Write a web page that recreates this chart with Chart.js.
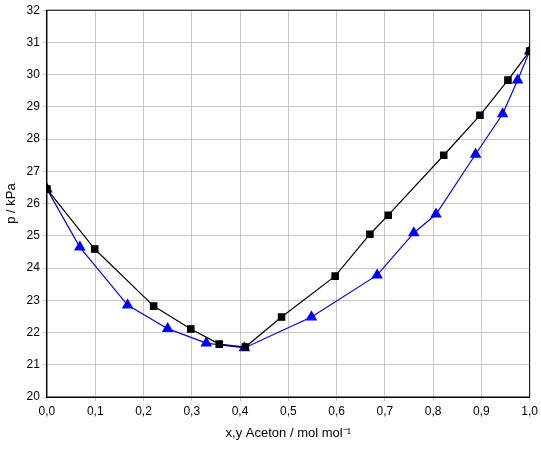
<!DOCTYPE html>
<html><head><meta charset="utf-8">
<script src="https://cdn.jsdelivr.net/npm/chart.js@4"></script>
<style>html,body{margin:0;padding:0;background:#fff}#w{width:541px;height:451px}</style>
</head><body><div id="w"><canvas id="c"></canvas></div>
<script>
const liquidX=[0,0.099,0.221,0.298,0.357,0.411,0.486,0.597,0.669,0.707,0.822,0.897,0.955,1.0];
const liquidP=[26.45,24.59,22.82,22.11,21.64,21.55,22.48,23.75,25.05,25.64,27.5,28.74,29.83,30.73];
const vaporX=[0,0.068,0.167,0.25,0.33,0.409,0.548,0.684,0.76,0.806,0.888,0.944,0.975,1.0];
const vaporP=[26.45,24.65,22.85,22.12,21.67,21.52,22.48,23.78,25.09,25.67,27.53,28.78,29.83,30.73];
const xTitle='x,y Aceton / mol mol\u207B\u00B9';
const yTitle='p / kPa';
const pts=(xs,ys)=>xs.map((x,i)=>({x,y:ys[i]}));
const fmt=v=>v.toFixed(1).replace('.',',');
new Chart(document.getElementById('c'),{type:'scatter',data:{datasets:[
{data:pts(liquidX,liquidP),showLine:true,borderColor:'#000',backgroundColor:'#000',borderWidth:1.2,pointStyle:'rect',pointRadius:4.5},
{data:pts(vaporX,vaporP),showLine:true,borderColor:'#0000ff',backgroundColor:'#0000ff',borderWidth:1.2,pointStyle:'triangle',pointRadius:5.5}
]},options:{responsive:true,maintainAspectRatio:false,animation:false,
layout:{padding:{top:1,right:8,left:0,bottom:6}},
plugins:{legend:{display:false},tooltip:{enabled:false}},
scales:{x:{type:'linear',min:0,max:1,border:{color:'#000',width:1},
grid:{color:'#c8c8c8',tickLength:4},
ticks:{stepSize:0.1,color:'#000',font:{family:'Arial, Liberation Sans',size:12},callback:v=>fmt(v)},
title:{display:true,text:xTitle,color:'#000',font:{family:'Arial, Liberation Sans',size:13}}},
y:{min:20,max:32,border:{color:'#000',width:1},grid:{color:'#c8c8c8',tickLength:4},
ticks:{stepSize:1,color:'#000',font:{family:'Arial, Liberation Sans',size:12}},
title:{display:true,text:yTitle,color:'#000',font:{family:'Arial, Liberation Sans',size:13}}}}},
plugins:[{id:'box',afterDraw(c){const a=c.chartArea,x=c.ctx;x.save();x.strokeStyle='#000';x.lineWidth=1;x.strokeRect(a.left,a.top,a.right-a.left,a.bottom-a.top);x.restore();}}]
});
</script></body></html>
